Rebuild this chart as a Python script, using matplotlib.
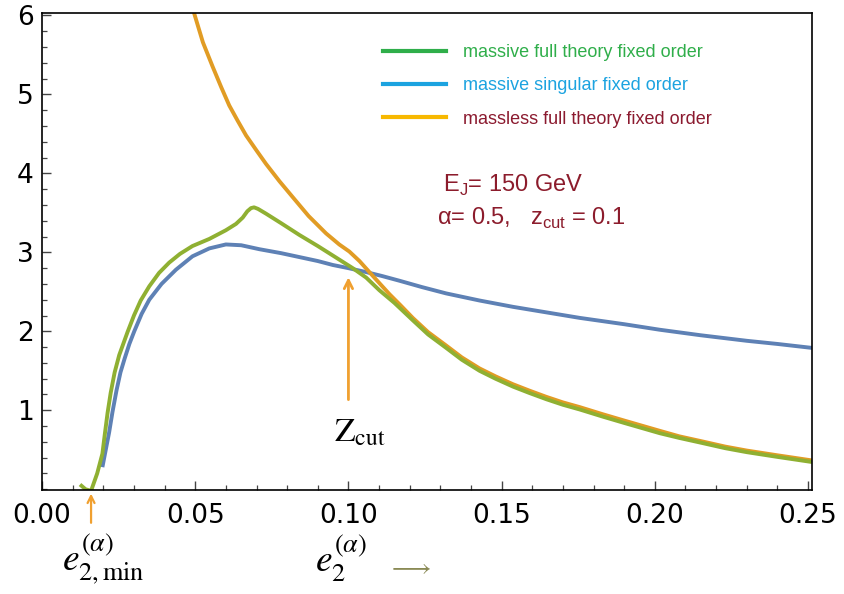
import numpy as np
import matplotlib
matplotlib.use('Agg')
from matplotlib import pyplot as plt
from matplotlib.lines import Line2D
from matplotlib.ticker import MultipleLocator, FormatStrFormatter

plt.rcParams['mathtext.fontset'] = 'custom'
plt.rcParams['mathtext.rm'] = 'Liberation Sans'

# curves (e2 , distribution)
x_green = [0.0124, 0.0142, 0.0160, 0.0180, 0.0197, 0.0205, 0.0214, 0.0224, 0.0237, 0.0252,
           0.0279, 0.0300, 0.0322, 0.0350, 0.0382, 0.0415, 0.0450, 0.0491, 0.0546, 0.0600,
           0.0633, 0.0655, 0.0670, 0.0682, 0.0692, 0.0705, 0.0731, 0.0780, 0.0840, 0.0900,
           0.0949, 0.1014, 0.1058, 0.1101, 0.1150, 0.1210, 0.1260, 0.1319, 0.1370, 0.1428,
           0.1480, 0.1537, 0.1590, 0.1646, 0.1700, 0.1755, 0.1830, 0.1900, 0.2016, 0.2080,
           0.2150, 0.2230, 0.2300, 0.2400, 0.2513]
y_green = [0.06, 0.0, -0.02, 0.20, 0.45, 0.70, 0.97, 1.22, 1.48, 1.70,
           1.99, 2.20, 2.39, 2.57, 2.74, 2.87, 2.98, 3.08, 3.17, 3.28,
           3.36, 3.44, 3.52, 3.56, 3.57, 3.55, 3.49, 3.37, 3.22, 3.08,
           2.96, 2.80, 2.68, 2.52, 2.36, 2.14, 1.96, 1.79, 1.64, 1.50,
           1.40, 1.30, 1.22, 1.14, 1.07, 1.01, 0.92, 0.84, 0.71, 0.65,
           0.59, 0.52, 0.47, 0.41, 0.345]

x_blue = [0.0197, 0.0208, 0.0219, 0.0230, 0.0243, 0.0256, 0.0270, 0.0285, 0.0301, 0.0325,
          0.0350, 0.0390, 0.0437, 0.0491, 0.0546, 0.0600, 0.0650, 0.0709, 0.0780, 0.0840,
          0.0900, 0.0949, 0.1000, 0.1058, 0.1110, 0.1167, 0.1240, 0.1319, 0.1428, 0.1537,
          0.1646, 0.1755, 0.1900, 0.2016, 0.2150, 0.2300, 0.2400, 0.2513]
y_blue = [0.28, 0.50, 0.72, 0.98, 1.25, 1.48, 1.66, 1.84, 2.00, 2.22,
          2.40, 2.60, 2.78, 2.95, 3.05, 3.10, 3.09, 3.04, 2.99, 2.94,
          2.89, 2.84, 2.80, 2.75, 2.70, 2.64, 2.56, 2.48, 2.39, 2.31,
          2.24, 2.17, 2.09, 2.02, 1.95, 1.88, 1.84, 1.79]

x_orange = [0.0490, 0.0497, 0.0525, 0.0557, 0.0585, 0.0611, 0.0638, 0.0666, 0.0700, 0.0731,
            0.0775, 0.0818, 0.0870, 0.0927, 0.0970, 0.1003, 0.1036, 0.1080, 0.1134, 0.1170,
            0.1210, 0.1260, 0.1319, 0.1370, 0.1428, 0.1480, 0.1537, 0.1590, 0.1646, 0.1700,
            0.1755, 0.1830, 0.1900, 0.2016, 0.2080, 0.2150, 0.2230, 0.2300, 0.2400, 0.2513]
y_orange = [6.15, 6.02, 5.66, 5.35, 5.09, 4.86, 4.67, 4.48, 4.29, 4.12,
            3.90, 3.70, 3.46, 3.24, 3.10, 3.01, 2.89, 2.70, 2.47, 2.33,
            2.17, 1.99, 1.82, 1.67, 1.53, 1.43, 1.33, 1.25, 1.17, 1.10,
            1.04, 0.95, 0.87, 0.74, 0.67, 0.61, 0.54, 0.49, 0.43, 0.365]

labels = ['massive full theory fixed order',
          'massive singular fixed order',
          'massless full theory fixed order']
zcut = 0.1
e2min = 0.016

fig = plt.figure(figsize=(8.44, 5.94), dpi=100)
ax = fig.add_axes([0.0498, 0.175, 0.9123, 0.803])

style = dict(lw=2.8, solid_capstyle='butt', solid_joinstyle='round')
ax.plot(x_blue, y_blue, color='#5e81b5', **style)
ax.plot(x_orange, y_orange, color='#e19c24', **style)
ax.plot(x_green, y_green, color='#8fb032', **style)

ax.set_xlim(0, 0.2513)
ax.set_ylim(-0.01, 6.03)

ax.set_yticks([1, 2, 3, 4, 5, 6])
ax.yaxis.set_minor_locator(MultipleLocator(0.2))
ax.xaxis.set_major_locator(MultipleLocator(0.05))
ax.xaxis.set_major_formatter(FormatStrFormatter('%.2f'))
ax.xaxis.set_minor_locator(MultipleLocator(0.01))
ax.tick_params(which='both', direction='in', color='#444444', top=False, right=False)
ax.tick_params(which='major', length=6.5, width=1.0, labelsize=19)
ax.tick_params(which='minor', length=3.5, width=0.9)
ax.tick_params(axis='x', pad=9)
ax.tick_params(axis='y', pad=6)
for lab in ax.get_xticklabels() + ax.get_yticklabels():
    lab.set_family('DejaVu Sans')
for s in ax.spines.values():
    s.set_linewidth(1.2)

# legend
handles = [Line2D([], [], color='#2fae4a', lw=3),
           Line2D([], [], color='#1ca3e0', lw=3),
           Line2D([], [], color='#f7b800', lw=3)]
leg = ax.legend(handles, labels, loc='upper left', bbox_to_anchor=(0.443, 0.935),
                frameon=False, borderpad=0, borderaxespad=0, handlelength=3.5,
                handletextpad=0.9, labelspacing=0.9,
                prop={'family': 'Liberation Sans', 'size': 13},
                labelcolor=['#2fae4a', '#1ca3e0', '#8b1a2f'])

# parameters
ax.text(0.521, 0.639, r'E$_{\mathrm{J}}$= 150 GeV', transform=ax.transAxes,
        color='#8c1c2c', fontsize=17, family='Liberation Sans', va='center')
ax.text(0.513, 0.570, r'α= 0.5,   z$_{\mathrm{cut}}$ = 0.1', transform=ax.transAxes,
        color='#8c1c2c', fontsize=17, family='Liberation Sans', va='center')

# arrows and labels
ax.annotate('', xy=(zcut, 2.72), xytext=(zcut, 1.1),
            arrowprops=dict(arrowstyle='->,head_length=0.6,head_width=0.3',
                            color='#f0a030', lw=2))
ax.text(zcut + 0.0036, 0.72, r'$\mathrm{Z}_{\mathrm{cut}}$', fontsize=24,
        math_fontfamily='stix', ha='center', va='center')
ax.annotate('', xy=(e2min, -0.02), xytext=(e2min, -0.46), annotation_clip=False,
            arrowprops=dict(arrowstyle='->,head_length=0.5,head_width=0.25',
                            color='#f0a030', lw=1.6))
ax.text(0.0200, -0.88, r'$e_{2,\mathrm{min}}^{(\alpha)}$', fontsize=27,
        math_fontfamily='stix', ha='center', va='center', clip_on=False)
ax.text(0.0890, -0.88, r'$e_{2}^{(\alpha)}$', fontsize=27,
        math_fontfamily='stix', ha='left', va='center', clip_on=False)
ax.text(0.1200, -0.99, r'$\longrightarrow$', fontsize=18, color='#8a8a55',
        math_fontfamily='stix', ha='center', va='center', clip_on=False)

fig.savefig('out.png', dpi=100)
